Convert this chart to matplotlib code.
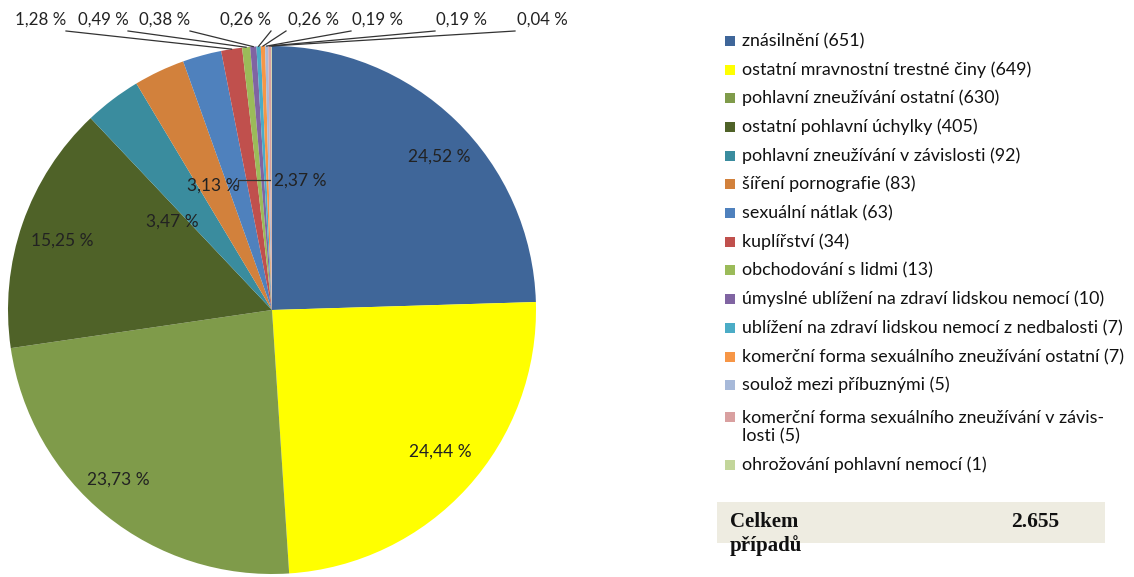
import matplotlib
matplotlib.use('Agg')
import matplotlib.pyplot as plt
from matplotlib.patches import Rectangle
import numpy as np

# data
categories = ['znásilnění', 'ostatní mravnostní trestné činy', 'pohlavní zneužívání ostatní',
              'ostatní pohlavní úchylky', 'pohlavní zneužívání v závislosti', 'šíření pornografie',
              'sexuální nátlak', 'kuplířství', 'obchodování s lidmi',
              'úmyslné ublížení na zdraví lidskou nemocí',
              'ublížení na zdraví lidskou nemocí z nedbalosti',
              'komerční forma sexuálního zneužívání ostatní', 'soulož mezi příbuznými',
              'komerční forma sexuálního zneužívání v závis-\nlosti', 'ohrožování pohlavní nemocí']
counts = [651, 649, 630, 405, 92, 83, 63, 34, 13, 10, 7, 7, 5, 5, 1]
colors = ['#3F6699', '#FFFF00', '#7F9B4A', '#4F6228', '#3A8C9E', '#D2813C', '#4F81BD',
          '#C0504D', '#9BBB59', '#8064A2', '#4BACC6', '#F79646', '#A7B9D9', '#D9A0A0', '#C3D69B']
total_label = '2.655'

total = sum(counts)
fig = plt.figure(figsize=(11.34, 5.77), dpi=100)
ax = fig.add_axes([0, 0, 1, 1])

# pie drawn in pixel coords (y flipped, so startangle -90 = top, clockwise)
cx, cy, r = 272, 310, 264
ax.pie(counts, colors=colors, startangle=-90, counterclock=True, center=(cx, cy), radius=r,
       wedgeprops=dict(linewidth=0))
ax.set_xlim(0, 1134)
ax.set_ylim(577, 0)
ax.set_aspect('equal')
ax.axis('off')

fnt = 'Lato'
fs = 12.5
pct = [('%.2f %%' % (c * 100 / total)).replace('.', ',') for c in counts]

# labels inside the big slices
big_pos = [(439, 157), (440, 452), (118, 480), (62, 241), (172, 222), (213, 186), (300, 181)]
for (x, y), p in zip(big_pos, pct[:7]):
    ax.text(x, y, p, ha='center', va='center', fontsize=fs, family=fnt, color='#222222')
ax.plot([270, 238, 238], [180, 180, 186], color='#333333', lw=0.9)

# small slices: labels on top with leader lines
top_x = [41, 103, 165, 246, 313, 378, 462, 542]
cum = sum(counts[:7])
for i, c in enumerate(counts[7:]):
    t = np.deg2rad(360 * (cum + c / 2) / total)
    cum += c
    ex, ey = cx + r * np.sin(t), cy - r * np.cos(t)
    lx = top_x[i]
    ax.text(lx, 20, pct[7 + i], ha='center', va='center', fontsize=12.2, family=fnt, color='#222222')
    sx = lx + 25 if lx < cx else lx - 27
    ax.plot([sx, ex], [31, ey], color='#333333', lw=0.9)

# legend
lfs = 12.9
rows = [41, 70, 98, 127, 156, 184, 213, 242, 270, 299, 328, 357, 385, 417, 465]
for y, name, c, col in zip(rows, categories, counts, colors):
    ax.add_patch(Rectangle((725, y - 5), 10, 10, facecolor=col, edgecolor='none'))
    if '\n' in name:
        ax.text(742, y + 10.5, '%s (%d)' % (name, c), ha='left', va='center', fontsize=lfs,
                family=fnt, color='#111111', linespacing=1.2)
    else:
        ax.text(742, y, '%s (%d)' % (name, c), ha='left', va='center', fontsize=lfs,
                family=fnt, color='#111111')

# total box
ax.add_patch(Rectangle((717, 502), 388, 41, facecolor='#EEECE1', edgecolor='none'))
ax.text(730, 522, 'Celkem', ha='left', va='center', fontsize=15, family='Liberation Serif',
        weight='bold', color='#111111')
ax.text(730, 546, 'případů', ha='left', va='center', fontsize=15, family='Liberation Serif',
        weight='bold', color='#111111')
ax.text(1059, 522, total_label, ha='right', va='center', fontsize=15.5, family='Liberation Serif',
        weight='bold', color='#111111')

fig.savefig('out.png', dpi=100)
